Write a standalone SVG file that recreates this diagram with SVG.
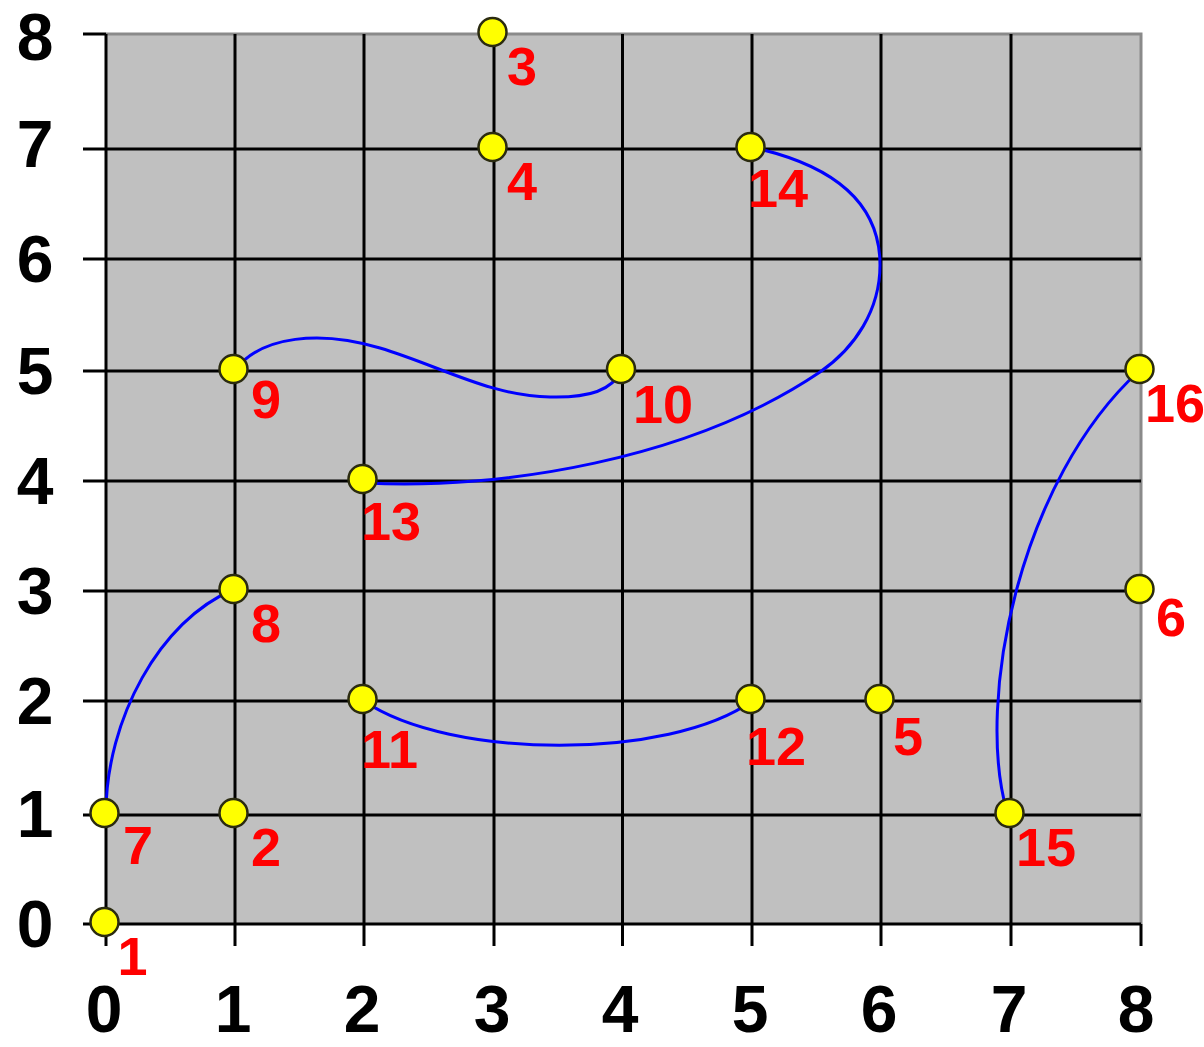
<svg xmlns="http://www.w3.org/2000/svg" width="1204" height="1047" viewBox="0 0 1204 1047">
<style>
.grid{stroke:#000;stroke-width:3;fill:none}
.border{stroke:#8a8a8a;stroke-width:3;fill:none}
.curve{stroke:#0000ff;stroke-width:3;fill:none}
.pt{fill:#ffff00;stroke:#2b2b10;stroke-width:2.5}
.lbl{fill:#ff0000;font-family:"Liberation Sans",Arial,sans-serif;font-weight:bold;font-size:54px}
.ax{fill:#000;font-family:"Liberation Sans",Arial,sans-serif;font-weight:bold;font-size:66px;text-anchor:middle}
</style>
<rect width="1204" height="1047" fill="#ffffff"/>
<g id="plot">
<rect x="106" y="34" width="1035" height="890" fill="#c0c0c0"/>
<path class="border" d="M106,34 H1141 V924"/>
<path class="grid" d="M106,34 V946 M235,34 V946 M364,34 V946 M494,34 V946 M622.5,34 V946 M752,34 V946 M881,34 V946 M1011,34 V946 M1141,924 V946"/>
<path class="grid" d="M83,34 H106 M83,149 H1141 M83,259 H1141 M83,371 H1141 M83,481 H1141 M83,591 H1141 M83,701 H1141 M83,815 H1141 M83,924 H1141"/>
</g>
<g id="axis-labels">
<text class="ax" x="35" y="60">8</text>
<text class="ax" x="35" y="167">7</text>
<text class="ax" x="35" y="282">6</text>
<text class="ax" x="35" y="394">5</text>
<text class="ax" x="35" y="504">4</text>
<text class="ax" x="35" y="614">3</text>
<text class="ax" x="35" y="724">2</text>
<text class="ax" x="35" y="837">1</text>
<text class="ax" x="35" y="947">0</text>
<text class="ax" x="104" y="1032">0</text>
<text class="ax" x="233" y="1032">1</text>
<text class="ax" x="362" y="1032">2</text>
<text class="ax" x="492" y="1032">3</text>
<text class="ax" x="620" y="1032">4</text>
<text class="ax" x="750" y="1032">5</text>
<text class="ax" x="879" y="1032">6</text>
<text class="ax" x="1009" y="1032">7</text>
<text class="ax" x="1136" y="1032">8</text>
</g>
<g id="connectors">
<path class="curve" d="M106,813 C106,720 160,620 233,590"/>
<path class="curve" d="M236,369 C262,336 320,330 380,348 C440,366 490,396 550,397 C590,398 612,390 621,371"/>
<path class="curve" d="M366,483 C500,490 690,460 820,372 C855,348 880,310 880,265 C880,200 830,165 755,148"/>
<path class="curve" d="M364,701 C450,760 670,760 752,701"/>
<path class="curve" d="M1007,812 C975,700 1020,480 1139,371"/>
</g>
<g id="node-1"><circle class="pt" cx="104.5" cy="922" r="14"/><text class="lbl" x="117.5" y="975">1</text></g>
<g id="node-2"><circle class="pt" cx="233.5" cy="813" r="14"/><text class="lbl" x="251" y="866">2</text></g>
<g id="node-3"><circle class="pt" cx="492.5" cy="32" r="14"/><text class="lbl" x="507" y="85">3</text></g>
<g id="node-4"><circle class="pt" cx="492.5" cy="147" r="14"/><text class="lbl" x="507" y="200">4</text></g>
<g id="node-5"><circle class="pt" cx="879.5" cy="699" r="14"/><text class="lbl" x="893" y="755">5</text></g>
<g id="node-6"><circle class="pt" cx="1139.5" cy="589" r="14"/><text class="lbl" x="1156" y="636">6</text></g>
<g id="node-7"><circle class="pt" cx="104.5" cy="813" r="14"/><text class="lbl" x="123" y="864">7</text></g>
<g id="node-8"><circle class="pt" cx="233.5" cy="589" r="14"/><text class="lbl" x="251" y="642">8</text></g>
<g id="node-9"><circle class="pt" cx="233.5" cy="369" r="14"/><text class="lbl" x="251" y="418">9</text></g>
<g id="node-10"><circle class="pt" cx="621" cy="369" r="14"/><text class="lbl" x="633" y="423">10</text></g>
<g id="node-11"><circle class="pt" cx="362.5" cy="699" r="14"/><text class="lbl" x="361" y="768">11</text></g>
<g id="node-12"><circle class="pt" cx="750.5" cy="699" r="14"/><text class="lbl" x="746" y="765">12</text></g>
<g id="node-13"><circle class="pt" cx="362.5" cy="479" r="14"/><text class="lbl" x="361" y="540">13</text></g>
<g id="node-14"><circle class="pt" cx="750.5" cy="147" r="14"/><text class="lbl" x="748" y="207">14</text></g>
<g id="node-15"><circle class="pt" cx="1009.5" cy="813" r="14"/><text class="lbl" x="1016" y="866">15</text></g>
<g id="node-16"><circle class="pt" cx="1139.5" cy="369" r="14"/><text class="lbl" x="1145" y="422">16</text></g>
</svg>
